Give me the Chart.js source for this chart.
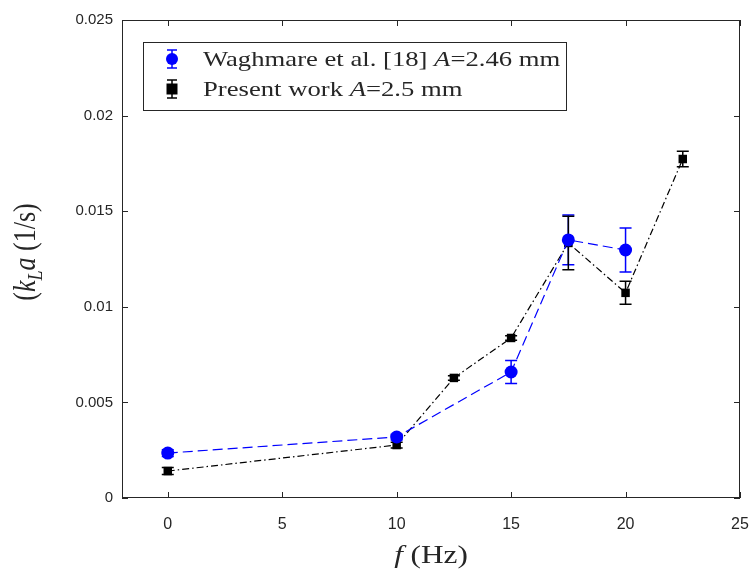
<!doctype html>
<html lang="en">
  <head>
    <meta charset="utf-8">
    <title>kLa vs f</title>
    <style>
      * { margin: 0; padding: 0; }
      body { background: #fff; }
      .chartBox { width: 751px; height: 571px; }
    </style>
  </head>
  <body>
    <div class="chartBox">
      <canvas id="myChart" width="751" height="571"></canvas>
    </div>

    <script src="https://cdn.jsdelivr.net/npm/chart.js"></script>
    <script>
    // data
    const waghFreq = [0, 10, 15, 17.5, 20];
    const waghKla  = [0.00235, 0.00319, 0.00659, 0.0135, 0.01297];
    const waghErr  = [0.00018, 0.00015, 0.0006, 0.0013, 0.00115];

    const presFreq = [0, 10, 12.5, 15, 17.5, 20, 22.5];
    const presKla  = [0.00141, 0.00277, 0.00628, 0.00837, 0.01334, 0.01073, 0.01773];
    const presErr  = [0.00018, 0.00015, 0.00012, 0.00012, 0.0014, 0.0006, 0.0004];

    const xTicks = [0, 5, 10, 15, 20, 25];
    const yTicks = [0, 0.005, 0.01, 0.015, 0.02, 0.025];
    const yTickLabels = ['0', '0.005', '0.01', '0.015', '0.02', '0.025'];

    const toPoints = (xs, ys) => xs.map((x, i) => ({ x: x, y: ys[i] }));

    const data = {
      datasets: [
        {
          label: 'Waghmare et al. [18] A=2.46 mm',
          data: toPoints(waghFreq, waghKla),
          errors: waghErr,
          borderColor: '#0000ff',
          backgroundColor: '#0000ff',
          borderWidth: 1.2,
          borderDash: [10, 5],
          pointStyle: 'circle',
          pointRadius: 6.5,
          pointBorderWidth: 0
        },
        {
          label: 'Present work A=2.5 mm',
          data: toPoints(presFreq, presKla),
          errors: presErr,
          borderColor: '#000000',
          backgroundColor: '#000000',
          borderWidth: 1.2,
          borderDash: [7, 3, 1.5, 3],
          pointStyle: 'rect',
          pointRadius: 6,
          pointBorderWidth: 0
        }
      ]
    };

    // error bars, drawn under the markers
    const errorBars = {
      id: 'errorBars',
      beforeDatasetsDraw(chart) {
        const { ctx, scales: { x, y } } = chart;
        ctx.save();
        chart.data.datasets.forEach((ds) => {
          ctx.strokeStyle = ds.borderColor;
          ctx.lineWidth = 1.5;
          ds.data.forEach((p, i) => {
            const px = x.getPixelForValue(p.x);
            const top = y.getPixelForValue(p.y + ds.errors[i]);
            const bot = y.getPixelForValue(p.y - ds.errors[i]);
            ctx.beginPath();
            ctx.moveTo(px, top); ctx.lineTo(px, bot);
            ctx.moveTo(px - 6, top); ctx.lineTo(px + 6, top);
            ctx.moveTo(px - 6, bot); ctx.lineTo(px + 6, bot);
            ctx.stroke();
          });
        });
        ctx.restore();
      }
    };

    // draws rich text pieces [text, style, size, yOffset] from x0, stretched a bit wider like the source image
    function richText(ctx, parts, x0, y0, stretch) {
      ctx.save();
      ctx.translate(x0, y0);
      ctx.scale(stretch, 1);
      let tx = 0;
      parts.forEach(([t, st, sz, off]) => {
        ctx.font = st + sz + 'px "Liberation Serif", serif';
        ctx.fillText(t, tx, off || 0);
        tx += ctx.measureText(t).width;
      });
      ctx.restore();
      return tx * stretch;
    }

    function richWidth(ctx, parts, stretch) {
      let w = 0;
      parts.forEach(([t, st, sz]) => { ctx.font = st + sz + 'px "Liberation Serif", serif'; w += ctx.measureText(t).width; });
      return w * stretch;
    }

    // matlab style box, inward ticks, legend and axis titles
    const frame = {
      id: 'frame',
      afterDraw(chart) {
        const { ctx, chartArea: a, scales: { x, y } } = chart;
        ctx.save();
        ctx.strokeStyle = '#262626';
        ctx.lineWidth = 1;
        ctx.strokeRect(a.left + 0.5, a.top + 0.5, a.right - a.left - 1, a.bottom - a.top - 1);
        ctx.beginPath();
        xTicks.forEach(v => {
          const px = Math.round(x.getPixelForValue(v)) + 0.5;
          ctx.moveTo(px, a.bottom); ctx.lineTo(px, a.bottom - 6);
          ctx.moveTo(px, a.top); ctx.lineTo(px, a.top + 6);
        });
        yTicks.forEach(v => {
          const py = Math.round(y.getPixelForValue(v)) + 0.5;
          ctx.moveTo(a.left, py); ctx.lineTo(a.left + 6, py);
          ctx.moveTo(a.right, py); ctx.lineTo(a.right - 6, py);
        });
        ctx.stroke();

        // legend
        const lx = 143, ly = 42, lw = 423, lh = 68;
        ctx.fillStyle = '#fff';
        ctx.fillRect(lx, ly, lw, lh);
        ctx.strokeStyle = '#262626';
        ctx.strokeRect(lx + 0.5, ly + 0.5, lw, lh);

        const rows = [
          { y: 59, color: '#0000ff', shape: 'circle', parts: [['Waghmare et al. [18] ', '', 21], ['A', 'italic ', 21], ['=2.46 mm', '', 21]] },
          { y: 89, color: '#000000', shape: 'rect', parts: [['Present work ', '', 21], ['A', 'italic ', 21], ['=2.5 mm', '', 21]] }
        ];
        rows.forEach(r => {
          const mx = 172;
          ctx.strokeStyle = r.color;
          ctx.fillStyle = r.color;
          ctx.lineWidth = 1.5;
          ctx.beginPath();
          ctx.moveTo(mx, r.y - 9); ctx.lineTo(mx, r.y + 9);
          ctx.moveTo(mx - 5, r.y - 9); ctx.lineTo(mx + 5, r.y - 9);
          ctx.moveTo(mx - 5, r.y + 9); ctx.lineTo(mx + 5, r.y + 9);
          ctx.stroke();
          ctx.beginPath();
          if (r.shape === 'circle') ctx.arc(mx, r.y, 6, 0, Math.PI * 2);
          else ctx.rect(mx - 5.5, r.y - 5.5, 11, 11);
          ctx.fill();

          ctx.fillStyle = '#262626';
          ctx.textBaseline = 'alphabetic';
          richText(ctx, r.parts, 203, r.y + 7, 1.27);
        });

        // x title
        ctx.fillStyle = '#262626';
        ctx.textBaseline = 'alphabetic';
        const xParts = [['f', 'italic ', 25], [' (Hz)', '', 25]];
        const xw = richWidth(ctx, xParts, 1.25);
        richText(ctx, xParts, 431 - xw / 2, 563, 1.25);

        // y title
        const yParts = [['(', '', 26], ['k', 'italic ', 26], ['L', 'italic ', 18, 6], ['a', 'italic ', 26], [' (1/s)', '', 26]];
        ctx.translate(35, 252);
        ctx.scale(1.2, 1);
        ctx.rotate(-Math.PI / 2);
        const yw = richWidth(ctx, yParts, 1);
        richText(ctx, yParts, -yw / 2, 0, 1);
        ctx.restore();
      }
    };

    const config = {
      type: 'line',
      data,
      options: {
        responsive: false,
        animation: false,
        layout: { padding: { top: 20, right: 11, left: 0, bottom: 0 } },
        plugins: {
          legend: { display: false },
          tooltip: { enabled: false }
        },
        scales: {
          x: {
            type: 'linear',
            min: -2,
            max: 25,
            grid: { display: false, drawTicks: false },
            border: { display: false },
            afterBuildTicks: (axis) => { axis.ticks = xTicks.map(v => ({ value: v })); },
            afterFit: (axis) => { axis.height = 73; axis.paddingRight = 0; axis.paddingLeft = 0; },
            ticks: {
              color: '#262626',
              padding: 17,
              font: { family: '"Liberation Sans", Arial, sans-serif', size: 16 },
              maxRotation: 0,
              autoSkip: false
            }
          },
          y: {
            type: 'linear',
            min: 0,
            max: 0.025,
            grid: { display: false, drawTicks: false },
            border: { display: false },
            afterBuildTicks: (axis) => { axis.ticks = yTicks.map(v => ({ value: v })); },
            afterFit: (axis) => { axis.width = 122; },
            ticks: {
              color: '#262626',
              padding: 9,
              font: { family: '"Liberation Sans", Arial, sans-serif', size: 15 },
              autoSkip: false,
              callback: (value) => {
                const i = yTicks.findIndex(v => Math.abs(v - value) < 1e-9);
                return i >= 0 ? yTickLabels[i] : '';
              }
            }
          }
        }
      },
      plugins: [errorBars, frame]
    };

    const myChart = new Chart(document.getElementById('myChart'), config);
    </script>
  </body>
</html>
